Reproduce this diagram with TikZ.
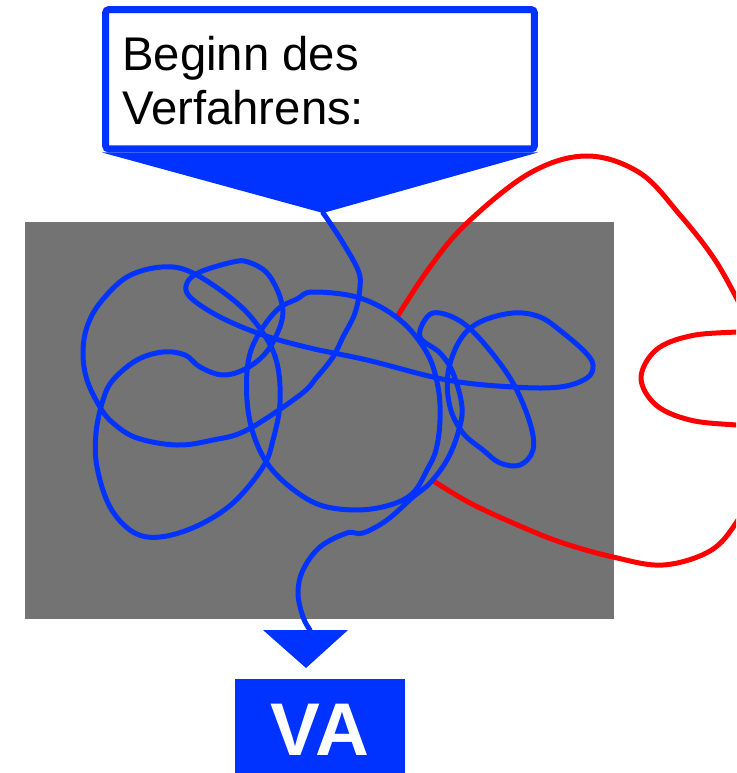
\documentclass[tikz,border=0pt]{standalone}
\usepackage{fontspec}
\setmainfont{Liberation Sans}
\definecolor{vablue}{RGB}{0,51,255}
\definecolor{vagray}{RGB}{115,115,115}
\definecolor{vared}{RGB}{255,0,0}

\begin{document}
\begin{tikzpicture}[x=0.02cm, y=-0.02cm,
    wire/.style={line width=0.1cm, line join=round, line cap=round},
    bluewire/.style={wire, draw=vablue},
    redwire/.style={wire, draw=vared}]
    \useasboundingbox (0,0) rectangle (736,773);
    \clip (0,0) rectangle (736,773);
    \fill[vagray] (25,222) rectangle (614,619);
    \coordinate (tip) at (323,213);
    \coordinate (arrowtop) at (310,630);
    \draw[redwire] plot[smooth, tension=0.6] coordinates {(397,317) (430,267) (467,223) (530,173) (587,156) (640,173) (680,215) (713,257) (736,297) (752,330)};
    \draw[redwire] plot[smooth, tension=0.6] coordinates {(790,330) (736,332) (690,336) (656,350) (641,378) (656,405) (690,420) (736,425) (790,428)};
    \draw[redwire] plot[smooth, tension=0.6] coordinates {(752,490) (736,523) (710,551) (663,565) (613,557) (560,542) (513,523) (470,503) (435,482)};
    \draw[bluewire] plot[smooth cycle, tension=0.6] coordinates {(313,292) (360,298) (400,320) (427,353) (438,387) (440,420) (436,450) (427,470) (413,493) (390,505) (357,510) (320,505) (290,487) (267,463) (253,433) (247,400) (248,363) (257,337) (277,310) (297,299)};
    \draw[bluewire] plot[smooth, tension=0.6] coordinates {(tip) (328,220) (343,243) (358,270) (360,287) (355,313) (343,337) (333,357) (317,377) (300,395) (247,430) (213,440) (177,445) (137,438) (113,423) (100,407) (87,380) (83,353) (87,327) (100,303) (127,277) (162,267) (193,273) (237,303) (263,333) (277,363) (280,403) (273,440) (263,467) (233,503) (197,526) (160,537) (133,532) (110,507) (97,467) (96,433) (103,400) (113,380) (137,360) (163,352) (185,355) (200,367) (223,375) (247,368) (268,350) (282,320) (280,297) (267,273) (248,262) (233,262) (200,272) (187,283) (190,297) (220,317) (263,335) (310,348) (367,360) (447,380) (513,387) (560,387) (587,378) (593,365) (585,352) (562,332) (540,317) (513,313) (480,322) (460,340) (448,373) (450,407) (463,433) (483,450) (500,463) (520,465) (533,450) (530,423) (513,383) (487,347) (463,323) (440,313) (427,317) (420,337) (440,353) (453,373) (462,407) (458,433) (447,460) (430,483) (413,497) (387,520) (363,533) (347,533) (320,547) (303,570) (298,593) (303,617) (arrowtop)};
    \node[draw=vablue, fill=white, line width=0.14cm, rounded corners=2pt, minimum width=8.58cm, minimum height=2.79cm, inner sep=0] (start) at (320,79.25) {};
    \fill[vablue] (start.south west) -- (tip) -- (start.south east) -- cycle;
    \node[anchor=base west, align=left, inner sep=0, font=\fontsize{26.9pt}{31.3pt}\selectfont] (title) at (122,125) {Beginn des\\Verfahrens:};
    \fill[vablue] (263,630) -- (348,630) -- (306,668) -- cycle;
    \node[fill=vablue, text=white, minimum width=3.4cm, minimum height=2.02cm, inner sep=0, font=\bfseries\fontsize{42.5pt}{42.5pt}\selectfont] (va) at (320,729.5) {VA};
\end{tikzpicture}
\end{document}
